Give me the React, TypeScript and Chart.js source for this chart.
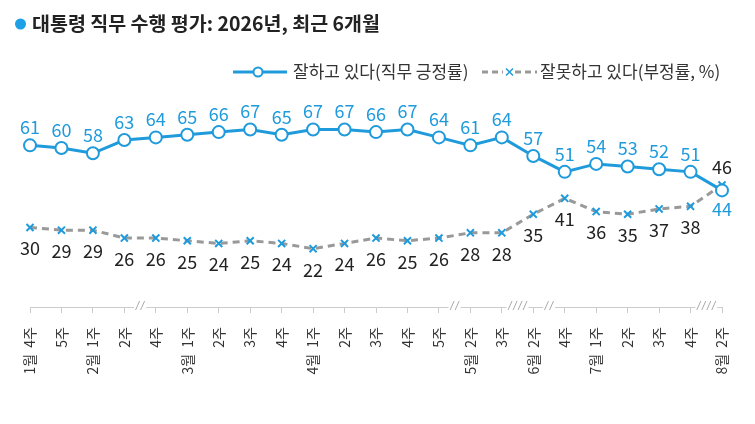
import { useEffect, useRef } from 'react';
import { Chart, registerables, Plugin } from 'chart.js';

Chart.register(...registerables);

// x축 주차 라벨 (월 + 주)
const weeks = [
    '1월  4주', '5주', '2월  1주', '2주', '4주', '3월  1주', '2주', '3주', '4주',
    '4월  1주', '2주', '3주', '4주', '5주', '5월  2주', '3주', '6월  2주', '4주',
    '7월  1주', '2주', '3주', '4주', '8월  2주',
];

// 직무 긍정률
const approve = [61, 60, 58, 63, 64, 65, 66, 67, 65, 67, 67, 66, 67, 64, 61, 64, 57, 51, 54, 53, 52, 51, 44];
// 부정률
const disapprove = [30, 29, 29, 26, 26, 25, 24, 25, 24, 22, 24, 26, 25, 26, 28, 28, 35, 41, 36, 35, 37, 38, 46];

// 축 생략 표시 (앞 인덱스, 빗금 개수)
const breaks: [number, number][] = [[3, 2], [13, 2], [15, 4], [16, 2], [21, 4]];

const BLUE = '#1f9bdc';
const GRAY = '#999999';
const FONT = '"Noto Sans CJK KR", "Noto Sans", sans-serif';

const decorPlugin: Plugin<'line'> = {
    id: 'decor',
    afterDraw(chart) {
        const ctx = chart.ctx;
        ctx.save();

        // title
        ctx.fillStyle = '#1ea0e6';
        ctx.beginPath();
        ctx.arc(20.5, 24, 5.5, 0, Math.PI * 2);
        ctx.fill();
        ctx.fillStyle = '#222';
        ctx.font = `bold 19.5px ${FONT}`;
        ctx.textBaseline = 'middle';
        ctx.textAlign = 'left';
        ctx.fillText('대통령 직무 수행 평가: 2026년, 최근 6개월', 32, 24);

        // legend
        const ly = 72;
        ctx.font = `17px ${FONT}`;
        ctx.strokeStyle = BLUE;
        ctx.lineWidth = 3;
        ctx.beginPath();
        ctx.moveTo(233, ly);
        ctx.lineTo(287, ly);
        ctx.stroke();
        ctx.fillStyle = '#fff';
        ctx.lineWidth = 2;
        ctx.beginPath();
        ctx.arc(258, ly, 4.5, 0, Math.PI * 2);
        ctx.fill();
        ctx.stroke();
        ctx.fillStyle = '#333';
        ctx.fillText('잘하고 있다(직무 긍정률)', 293, ly);

        ctx.strokeStyle = GRAY;
        ctx.lineWidth = 3;
        ctx.setLineDash([6, 4]);
        ctx.beginPath();
        ctx.moveTo(482, ly);
        ctx.lineTo(503, ly);
        ctx.moveTo(515, ly);
        ctx.lineTo(537, ly);
        ctx.stroke();
        ctx.setLineDash([]);
        ctx.strokeStyle = BLUE;
        ctx.lineWidth = 1.5;
        ctx.beginPath();
        ctx.moveTo(506, ly - 3.5);
        ctx.lineTo(513, ly + 3.5);
        ctx.moveTo(513, ly - 3.5);
        ctx.lineTo(506, ly + 3.5);
        ctx.stroke();
        ctx.fillStyle = '#333';
        ctx.fillText('잘못하고 있다(부정률, %)', 540, ly);

        // axis breaks
        const xs = chart.scales.x;
        const axisY = chart.chartArea.bottom;
        ctx.strokeStyle = '#aaa';
        ctx.lineWidth = 1;
        breaks.forEach(([i, n]) => {
            const mid = (xs.getPixelForValue(i) + xs.getPixelForValue(i + 1)) / 2;
            ctx.fillStyle = '#fff';
            ctx.fillRect(mid - n * 2.5 - 1, axisY - 2, n * 5 + 2, 4);
            for (let k = 0; k < n; k++) {
                const x0 = mid - (n - 1) * 2.5 + k * 5;
                ctx.beginPath();
                ctx.moveTo(x0 - 2, axisY + 3);
                ctx.lineTo(x0 + 2, axisY - 6);
                ctx.stroke();
            }
        });

        // data labels
        ctx.textAlign = 'center';
        ctx.font = `18px ${FONT}`;
        const last = weeks.length - 1;
        chart.getDatasetMeta(0).data.forEach((p, i) => {
            ctx.fillStyle = BLUE;
            const dy = i === last ? 19 : -18;
            ctx.fillText(String(approve[i]), p.x, p.y + dy);
        });
        chart.getDatasetMeta(1).data.forEach((p, i) => {
            ctx.fillStyle = '#222';
            const dy = i === last ? -18 : 21;
            ctx.fillText(String(disapprove[i]), p.x, p.y + dy);
        });

        ctx.restore();
    },
};

const App = () => {
    const canvasRef = useRef<HTMLCanvasElement | null>(null);
    const chartInstance = useRef<Chart<'line'> | null>(null);

    useEffect(() => {
        if (!canvasRef.current) return;
        if (chartInstance.current) chartInstance.current.destroy();

        chartInstance.current = new Chart(canvasRef.current, {
            type: 'line',
            data: {
                labels: weeks,
                datasets: [
                    {
                        label: '잘하고 있다(직무 긍정률)',
                        data: approve,
                        borderColor: BLUE,
                        borderWidth: 3,
                        pointStyle: 'circle',
                        pointRadius: 6,
                        pointBorderWidth: 2,
                        pointBackgroundColor: '#fff',
                        pointBorderColor: BLUE,
                        tension: 0,
                        clip: false,
                    },
                    {
                        label: '잘못하고 있다(부정률, %)',
                        data: disapprove,
                        borderColor: GRAY,
                        borderWidth: 3,
                        borderDash: [7, 5],
                        pointStyle: 'crossRot',
                        pointRadius: 5,
                        pointBorderWidth: 2,
                        pointBorderColor: BLUE,
                        tension: 0,
                        clip: false,
                    },
                ],
            },
            options: {
                animation: false,
                responsive: true,
                maintainAspectRatio: false,
                layout: { padding: { top: 95, left: 30, right: 33, bottom: 0 } },
                plugins: {
                    legend: { display: false },
                    tooltip: { enabled: false },
                },
                scales: {
                    x: {
                        offset: false,
                        afterFit: (s) => { s.height = 117; },
                        grid: { drawOnChartArea: false, drawTicks: true, tickLength: 6, color: '#ccc' },
                        border: { color: '#ccc' },
                        ticks: {
                            autoSkip: false,
                            maxRotation: 90,
                            minRotation: 90,
                            padding: 14,
                            color: '#333',
                            font: { family: FONT, size: 14 },
                        },
                    },
                    y: { display: false, min: 0, max: 80 },
                },
            },
            plugins: [decorPlugin],
        });

        return () => {
            if (chartInstance.current) {
                chartInstance.current.destroy();
                chartInstance.current = null;
            }
        };
    }, []);

    return (
        <div style={{ position: 'fixed', left: 0, top: 0, width: 755, height: 424, background: '#fff' }}>
            <canvas ref={canvasRef} />
        </div>
    );
};

export default App;
